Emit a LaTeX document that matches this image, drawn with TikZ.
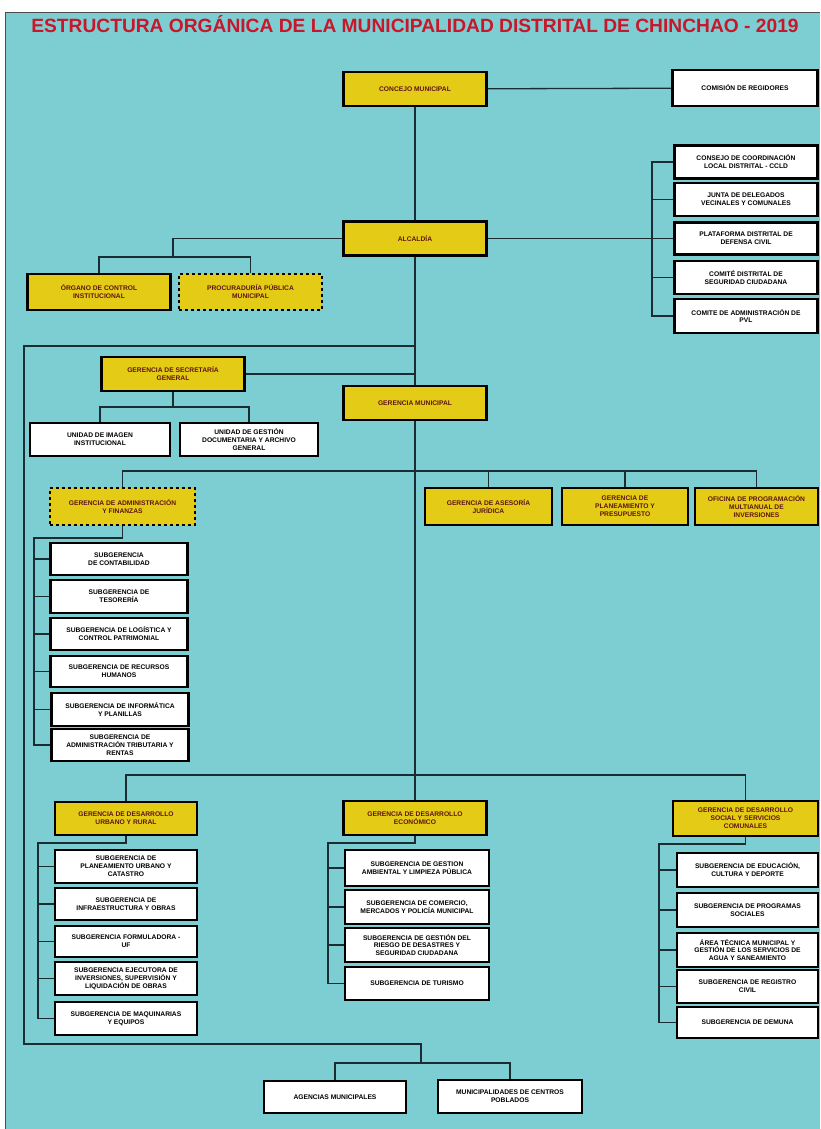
\documentclass[tikz,border=0pt]{standalone}
\usepackage{fontspec}
\setmainfont{Liberation Sans}
\usepackage{tikz}
\definecolor{fondo}{RGB}{124,206,211}
\definecolor{amarillo}{RGB}{228,204,22}
\definecolor{rojotit}{RGB}{200,22,42}
\definecolor{granate}{RGB}{95,20,20}
\definecolor{linea}{RGB}{25,45,50}

\begin{document}
\begin{tikzpicture}[x=1pt,y=-1pt]
      \useasboundingbox (0,0) rectangle (820,1129);
      \fill [fondo] (5,13) rectangle (820,1129);
      \draw [line width=1pt, black!70] (5,1129) -- (5,13) -- (820,13);
      \node (titulo) at (415,24) [text=rojotit, font=\bfseries\fontsize{19.2}{22}\selectfont] {ESTRUCTURA ORGÁNICA DE LA MUNICIPALIDAD DISTRITAL DE CHINCHAO - 2019};
      \tikzstyle {unidad} = [shape=rectangle, draw=black, line width=2.4pt, fill=white, inner sep=1pt, align=center, minimum width=143pt, minimum height=33pt, font=\bfseries\fontsize{6.7}{7.9}\selectfont];
      \tikzstyle {organo} = [unidad, fill=amarillo, text=granate];
      \tikzstyle {enlace} = [draw=linea, line width=1.3pt];
      \node (concejo) [organo, minimum height=34pt] at (415,89) {CONCEJO MUNICIPAL};
      \node (comision) [unidad, minimum width=145pt, minimum height=36pt] at (745,88) {COMISIÓN DE REGIDORES};
      \node (ccld) [unidad] at (746,162) {CONSEJO DE COORDINACIÓN\\LOCAL DISTRITAL - CCLD};
      \node (junta) [unidad] at (746,199.5) {JUNTA DE DELEGADOS\\VECINALES Y COMUNALES};
      \node (plataforma) [unidad, minimum height=32pt] at (746,238.5) {PLATAFORMA DISTRITAL DE\\DEFENSA CIVIL};
      \node (seguridad) [unidad] at (746,277.5) {COMITÉ DISTRITAL DE\\SEGURIDAD CIUDADANA};
      \node (pvl) [unidad, minimum height=34pt] at (746,316) {COMITE DE ADMINISTRACIÓN DE\\PVL};
      \node (alcaldia) [organo, minimum height=34pt] at (415,238.5) {ALCALDÍA};
      \node (ocontrol) [organo, minimum height=36pt] at (99,292) {ÓRGANO DE CONTROL\\INSTITUCIONAL};
      \node (procuraduria) [organo, dashed, minimum height=36pt] at (250.5,292) {PROCURADURÍA PÚBLICA\\MUNICIPAL};
      \node (secretaria) [organo, minimum height=34pt] at (173,374) {GERENCIA DE SECRETARÍA\\GENERAL};
      \node (imagen) [unidad, minimum width=140pt] at (100,439.5) {UNIDAD DE IMAGEN\\INSTITUCIONAL};
      \node (gestion) [unidad, minimum width=138pt] at (249,439.5) {UNIDAD DE GESTIÓN\\DOCUMENTARIA Y ARCHIVO\\GENERAL};
      \node (gmunicipal) [organo, minimum height=34pt] at (415,403) {GERENCIA MUNICIPAL};
      \node (admin) [organo, dashed, minimum width=145pt, minimum height=37pt] at (122.5,506.5) {GERENCIA DE ADMINISTRACIÓN\\Y FINANZAS};
      \node (asesoria) [organo, minimum width=127pt, minimum height=37pt] at (488.5,506.5) {GERENCIA DE ASESORÍA\\JURÍDICA};
      \node (planeamiento) [organo, minimum width=126pt, minimum height=37pt] at (625,506.5) {GERENCIA DE\\PLANEAMIENTO Y\\PRESUPUESTO};
      \node (opmi) [organo, minimum width=123pt, minimum height=37pt] at (756.5,506.5) {OFICINA DE PROGRAMACIÓN\\MULTIANUAL DE\\INVERSIONES};
      \node (asub1) [unidad, minimum width=137pt, minimum height=32pt] at (119,559) {SUBGERENCIA\\DE CONTABILIDAD};
      \node (asub2) [unidad, minimum width=137pt] at (119,596.5) {SUBGERENCIA DE\\TESORERÍA};
      \node (asub3) [unidad, minimum width=137pt, minimum height=32pt] at (119,634) {SUBGERENCIA DE LOGÍSTICA Y\\CONTROL PATRIMONIAL};
      \node (asub4) [unidad, minimum width=137pt, minimum height=31pt] at (119,671.5) {SUBGERENCIA DE RECURSOS\\HUMANOS};
      \node (asub5) [unidad, minimum width=137pt] at (120,709.5) {SUBGERENCIA DE INFORMÁTICA\\Y PLANILLAS};
      \node (asub6) [unidad, minimum width=137pt, minimum height=32pt] at (120,745) {SUBGERENCIA DE\\ADMINISTRACIÓN TRIBUTARIA Y\\RENTAS};
      \node (urbano) [organo, minimum width=142pt] at (126,818.5) {GERENCIA DE DESARROLLO\\URBANO Y RURAL};
      \node (economico) [organo, minimum height=34pt] at (415,818) {GERENCIA DE DESARROLLO\\ECONÓMICO};
      \node (social) [organo, minimum width=145pt, minimum height=35pt] at (745.5,818.5) {GERENCIA DE DESARROLLO\\SOCIAL Y SERVICIOS\\COMUNALES};
      \node (usub1) [unidad, minimum width=142pt] at (126,866.5) {SUBGERENCIA DE\\PLANEAMIENTO URBANO Y\\CATASTRO};
      \node (usub2) [unidad, minimum width=142pt, minimum height=32pt] at (126,904) {SUBGERENCIA DE\\INFRAESTRUCTURA Y OBRAS};
      \node (usub3) [unidad, minimum width=142pt, minimum height=31pt] at (126,941.5) {SUBGERENCIA FORMULADORA -\\UF};
      \node (usub4) [unidad, minimum width=142pt] at (126,978.5) {SUBGERENCIA EJECUTORA DE\\INVERSIONES, SUPERVISIÓN Y\\LIQUIDACIÓN DE OBRAS};
      \node (usub5) [unidad, minimum width=142pt] at (126,1018.5) {SUBGERENCIA DE MAQUINARIAS\\Y EQUIPOS};
      \node (esub1) [unidad, minimum width=144pt, minimum height=36pt] at (417,868) {SUBGERENCIA DE GESTION\\AMBIENTAL Y LIMPIEZA PÚBLICA};
      \node (esub2) [unidad, minimum width=144pt, minimum height=34pt] at (417,907) {SUBGERENCIA DE COMERCIO,\\MERCADOS Y POLICÍA MUNICIPAL};
      \node (esub3) [unidad, minimum width=144pt, minimum height=34pt] at (417,945) {SUBGERENCIA DE GESTIÓN DEL\\RIESGO DE DESASTRES Y\\SEGURIDAD CIUDADANA};
      \node (esub4) [unidad, minimum width=144pt] at (417,983.5) {SUBGERENCIA DE TURISMO};
      \node (ssub1) [unidad, minimum width=141pt, minimum height=34pt] at (747.5,870) {SUBGERENCIA DE EDUCACIÓN,\\CULTURA Y DEPORTE};
      \node (ssub2) [unidad, minimum width=141pt, minimum height=34pt] at (747.5,910) {SUBGERENCIA DE PROGRAMAS\\SOCIALES};
      \node (ssub3) [unidad, minimum width=141pt, minimum height=34pt] at (747.5,950) {ÁREA TÉCNICA MUNICIPAL Y\\GESTIÓN DE LOS SERVICIOS DE\\AGUA Y SANEAMIENTO};
      \node (ssub4) [unidad, minimum width=141pt] at (747.5,986.5) {SUBGERENCIA DE REGISTRO\\CIVIL};
      \node (ssub5) [unidad, minimum width=141pt, minimum height=31pt] at (747.5,1022.5) {SUBGERENCIA DE DEMUNA};
      \node (agencias) [unidad, minimum width=142pt, minimum height=32pt] at (335,1097) {AGENCIAS MUNICIPALES};
      \node (centros) [unidad, minimum width=144pt] at (510,1096.5) {MUNICIPALIDADES DE CENTROS\\POBLADOS};
      \coordinate (jcom) at (652,238.5);
      \coordinate (jalc) at (173,257);
      \coordinate (jlado) at (415,346);
      \coordinate (jsec) at (173,407);
      \coordinate (jger) at (415,471);
      \coordinate (jadm) at (34,538);
      \coordinate (jdes) at (415,775);
      \coordinate (jurb) at (38,843);
      \coordinate (jeco) at (328,843);
      \coordinate (jsoc) at (659,844);
      \coordinate (jbaj) at (421,1063);
      \draw [enlace] (concejo) -- (comision);
      \draw [enlace] (concejo) -- (alcaldia);
      \draw [enlace] (alcaldia) -- (gmunicipal);
      \draw [enlace] (gmunicipal) -- (economico);
      \draw [enlace] (alcaldia.east) -- (jcom);
      \draw [enlace] (ccld.west) -| (jcom) |- (pvl.west);
      \foreach \n in {junta,plataforma,seguridad}
        \draw [enlace] (\n.west) -- (\n.west -| jcom);
      \draw [enlace] (alcaldia.west) -| (jalc);
      \draw [enlace] (ocontrol.north) |- (jalc) -| (procuraduria.north);
      \draw [enlace] (jlado) -| (24,1044) -| (jbaj);
      \draw [enlace] (agencias.north) |- (jbaj) -| (centros.north);
      \draw [enlace] (secretaria.east) -- (secretaria.east -| jlado);
      \draw [enlace] (secretaria.south) -- (jsec);
      \draw [enlace] (imagen.north) |- (jsec) -| (gestion.north);
      \draw [enlace] (admin.north) |- (jger) -| (opmi.north);
      \draw [enlace] (asesoria.north) -- (asesoria.north |- jger);
      \draw [enlace] (planeamiento.north) -- (planeamiento.north |- jger);
      \draw [enlace] (urbano.north) |- (jdes) -| (social.north);
      \draw [enlace] (admin.south) |- (jadm) |- (asub6.west);
      \foreach \n in {1,...,5}
        \draw [enlace] (asub\n.west) -- (asub\n.west -| jadm);
      \draw [enlace] (urbano.south) |- (jurb) |- (usub5.west);
      \foreach \n in {1,...,4}
        \draw [enlace] (usub\n.west) -- (usub\n.west -| jurb);
      \draw [enlace] (economico.south) |- (jeco) |- (esub4.west);
      \foreach \n in {1,...,3}
        \draw [enlace] (esub\n.west) -- (esub\n.west -| jeco);
      \draw [enlace] (social.south) |- (jsoc) |- (ssub5.west);
      \foreach \n in {1,...,4}
        \draw [enlace] (ssub\n.west) -- (ssub\n.west -| jsoc);
    \end{tikzpicture}
\end{document}
